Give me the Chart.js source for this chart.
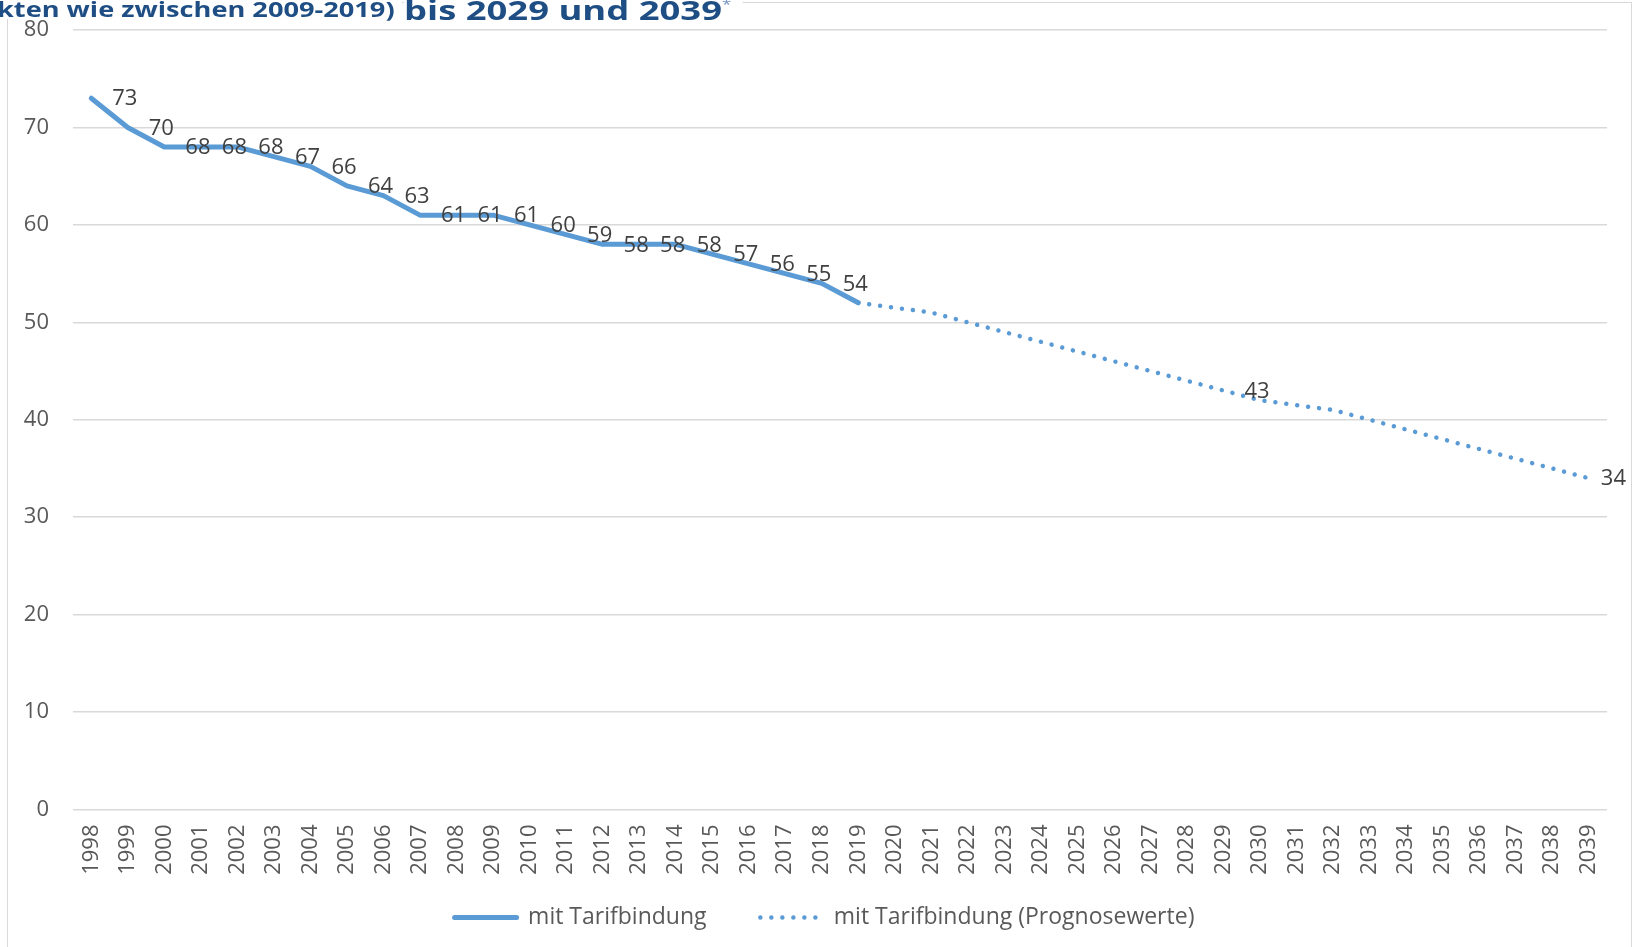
<!DOCTYPE html>
<html lang="de">
<head>
<meta charset="utf-8">
<title>Tarifbindung</title>
<script src="https://cdn.jsdelivr.net/npm/chart.js@4.4.1/dist/chart.umd.min.js"></script>
<style>
  html, body { margin: 0; padding: 0; background: #fff; }
  #wrap { position: relative; width: 1636px; height: 947px; overflow: hidden; }
  #frame {
    position: absolute; left: 7px; top: 2px; width: 1625px; height: 960px;
    border: 1.5px solid #d9d9d9; box-sizing: border-box;
  }
  #chart { position: absolute; left: 0; top: 0; }
  .title {
    position: absolute; white-space: nowrap;
    font-family: "Open Sans", sans-serif; font-weight: 700; color: #1f4e84;
    background: #fff; transform-origin: left top;
  }
  #t1 { left: -3px; top: -3px; font-size: 22px; line-height: 22px; transform: scaleX(1.235); padding-right: 6px; }
  #t2 { left: 404px; top: -8px; font-size: 26px; line-height: 26px; transform: scaleX(1.40); padding-right: 8px; }
  #t2 .st { font-size: 12px; vertical-align: 11px; color: #6f8fbf; font-weight: 400; }
</style>
</head>
<body>
<div id="wrap">
  <div id="frame"></div>
  <canvas id="chart" width="1636" height="947"></canvas>
  <div class="title" id="t1">kten wie zwischen 2009-2019)</div>
  <div class="title" id="t2">bis 2029 und 2039<span class="st">*</span></div>
</div>
<script>
const years = ['1998', '1999', '2000', '2001', '2002', '2003', '2004', '2005', '2006', '2007',
  '2008', '2009', '2010', '2011', '2012', '2013', '2014', '2015', '2016', '2017', '2018', '2019',
  '2020', '2021', '2022', '2023', '2024', '2025', '2026', '2027', '2028', '2029', '2030', '2031',
  '2032', '2033', '2034', '2035', '2036', '2037', '2038', '2039'];

const actualYears = ['1998', '1999', '2000', '2001', '2002', '2003', '2004', '2005', '2006', '2007',
  '2008', '2009', '2010', '2011', '2012', '2013', '2014', '2015', '2016', '2017', '2018', '2019'];
const actualValues = [73, 70, 68, 68, 68, 67, 66, 64, 63, 61, 61, 61, 60, 59, 58, 58, 58, 57, 56, 55, 54, 52];

const forecastYears = ['2019', '2020', '2021', '2022', '2023', '2024', '2025', '2026', '2027', '2028',
  '2029', '2030', '2031', '2032', '2033', '2034', '2035', '2036', '2037', '2038', '2039'];
const forecastValues = [52, 51.5, 51, 50, 49, 48, 47, 46, 45, 44, 43, 42, 41.5, 41, 40, 39, 38, 37, 36, 35, 34];

// which points carry a value label
const actualLabelYears = actualYears.slice(0, 21);
const forecastLabelYears = ['2029', '2039'];

const yTicks = [0, 10, 20, 30, 40, 50, 60, 70, 80];

const seriesNames = ['mit Tarifbindung', 'mit Tarifbindung (Prognosewerte)'];
const blue = '#5b9bd5';
const font = '"Open Sans", sans-serif';
const dots = [0.01, 11];

const toPoints = (xs, ys) => xs.map((x, i) => ({ x: x, y: ys[i] }));

// value labels to the right of the points, like the Excel "right" position
const pointLabels = {
  id: 'pointLabels',
  afterLayout(chart) {
    // the legend sits a little right of the page centre in the original
    chart.legend.left += 21;
    chart.legend.right += 21;
  },
  afterDatasetsDraw(chart) {
    const ctx = chart.ctx;
    ctx.save();
    ctx.font = '22px ' + font;
    ctx.fillStyle = '#404040';
    ctx.textAlign = 'left';
    ctx.textBaseline = 'middle';
    chart.data.datasets.forEach((ds, i) => {
      const meta = chart.getDatasetMeta(i);
      meta.data.forEach((pt, j) => {
        const raw = ds.data[j];
        if (!ds.labelYears.includes(raw.x)) return;
        const text = String(raw.y);
        const w = ctx.measureText(text).width;
        const x = Math.min(pt.x + 21, chart.width - 10 - w);
        ctx.fillText(text, x, pt.y + 1);
      });
    });
    ctx.restore();
  }
};

new Chart(document.getElementById('chart'), {
  type: 'line',
  data: {
    labels: years,
    datasets: [{
      label: seriesNames[0],
      data: toPoints(actualYears, actualValues),
      labelYears: actualLabelYears,
      borderColor: blue,
      backgroundColor: blue,
      borderWidth: 5,
      borderCapStyle: 'round',
      borderJoinStyle: 'round',
      pointRadius: 0,
      tension: 0
    }, {
      label: seriesNames[1],
      data: toPoints(forecastYears, forecastValues),
      labelYears: forecastLabelYears,
      borderColor: blue,
      backgroundColor: blue,
      borderWidth: 4.5,
      borderDash: dots,
      borderCapStyle: 'round',
      pointRadius: 0,
      tension: 0
    }]
  },
  options: {
    responsive: false,
    animation: false,
    layout: { padding: { left: 0, right: 29, top: 30, bottom: 8 } },
    scales: {
      x: {
        offset: true,
        grid: { display: false, drawTicks: false },
        border: { display: false },
        ticks: {
          autoSkip: false, minRotation: 90, maxRotation: 90, padding: 15,
          color: '#595959', font: { family: font, size: 22 }
        },
        afterFit: (scale) => { scale.height = 84.5; }
      },
      y: {
        min: 0, max: 80,
        afterBuildTicks: (scale) => { scale.ticks = yTicks.map(v => ({ value: v })); },
        grid: { color: '#d9d9d9', lineWidth: 1.5, drawTicks: false },
        border: { display: false },
        ticks: { padding: 24, color: '#595959', font: { family: font, size: 22 } },
        afterFit: (scale) => {
          scale.width = 73;
          scale.paddingTop = 0;
          scale.paddingBottom = 0;
        }
      }
    },
    plugins: {
      tooltip: { enabled: false },
      legend: {
        position: 'bottom',
        labels: {
          usePointStyle: true,
          pointStyle: 'line',
          pointStyleWidth: 62,
          padding: 12,
          color: '#595959',
          font: { family: font, size: 23 },
          generateLabels: (chart) => {
            const items = Chart.defaults.plugins.legend.labels.generateLabels(chart);
            items[0].text = items[0].text + '       ';
            items[0].lineWidth = 5;
            items[0].lineCap = 'round';
            items[1].lineWidth = 4.5;
            items[1].lineDash = dots;
            items[1].lineCap = 'round';
            return items;
          }
        }
      }
    }
  },
  plugins: [pointLabels]
});
</script>
</body>
</html>
